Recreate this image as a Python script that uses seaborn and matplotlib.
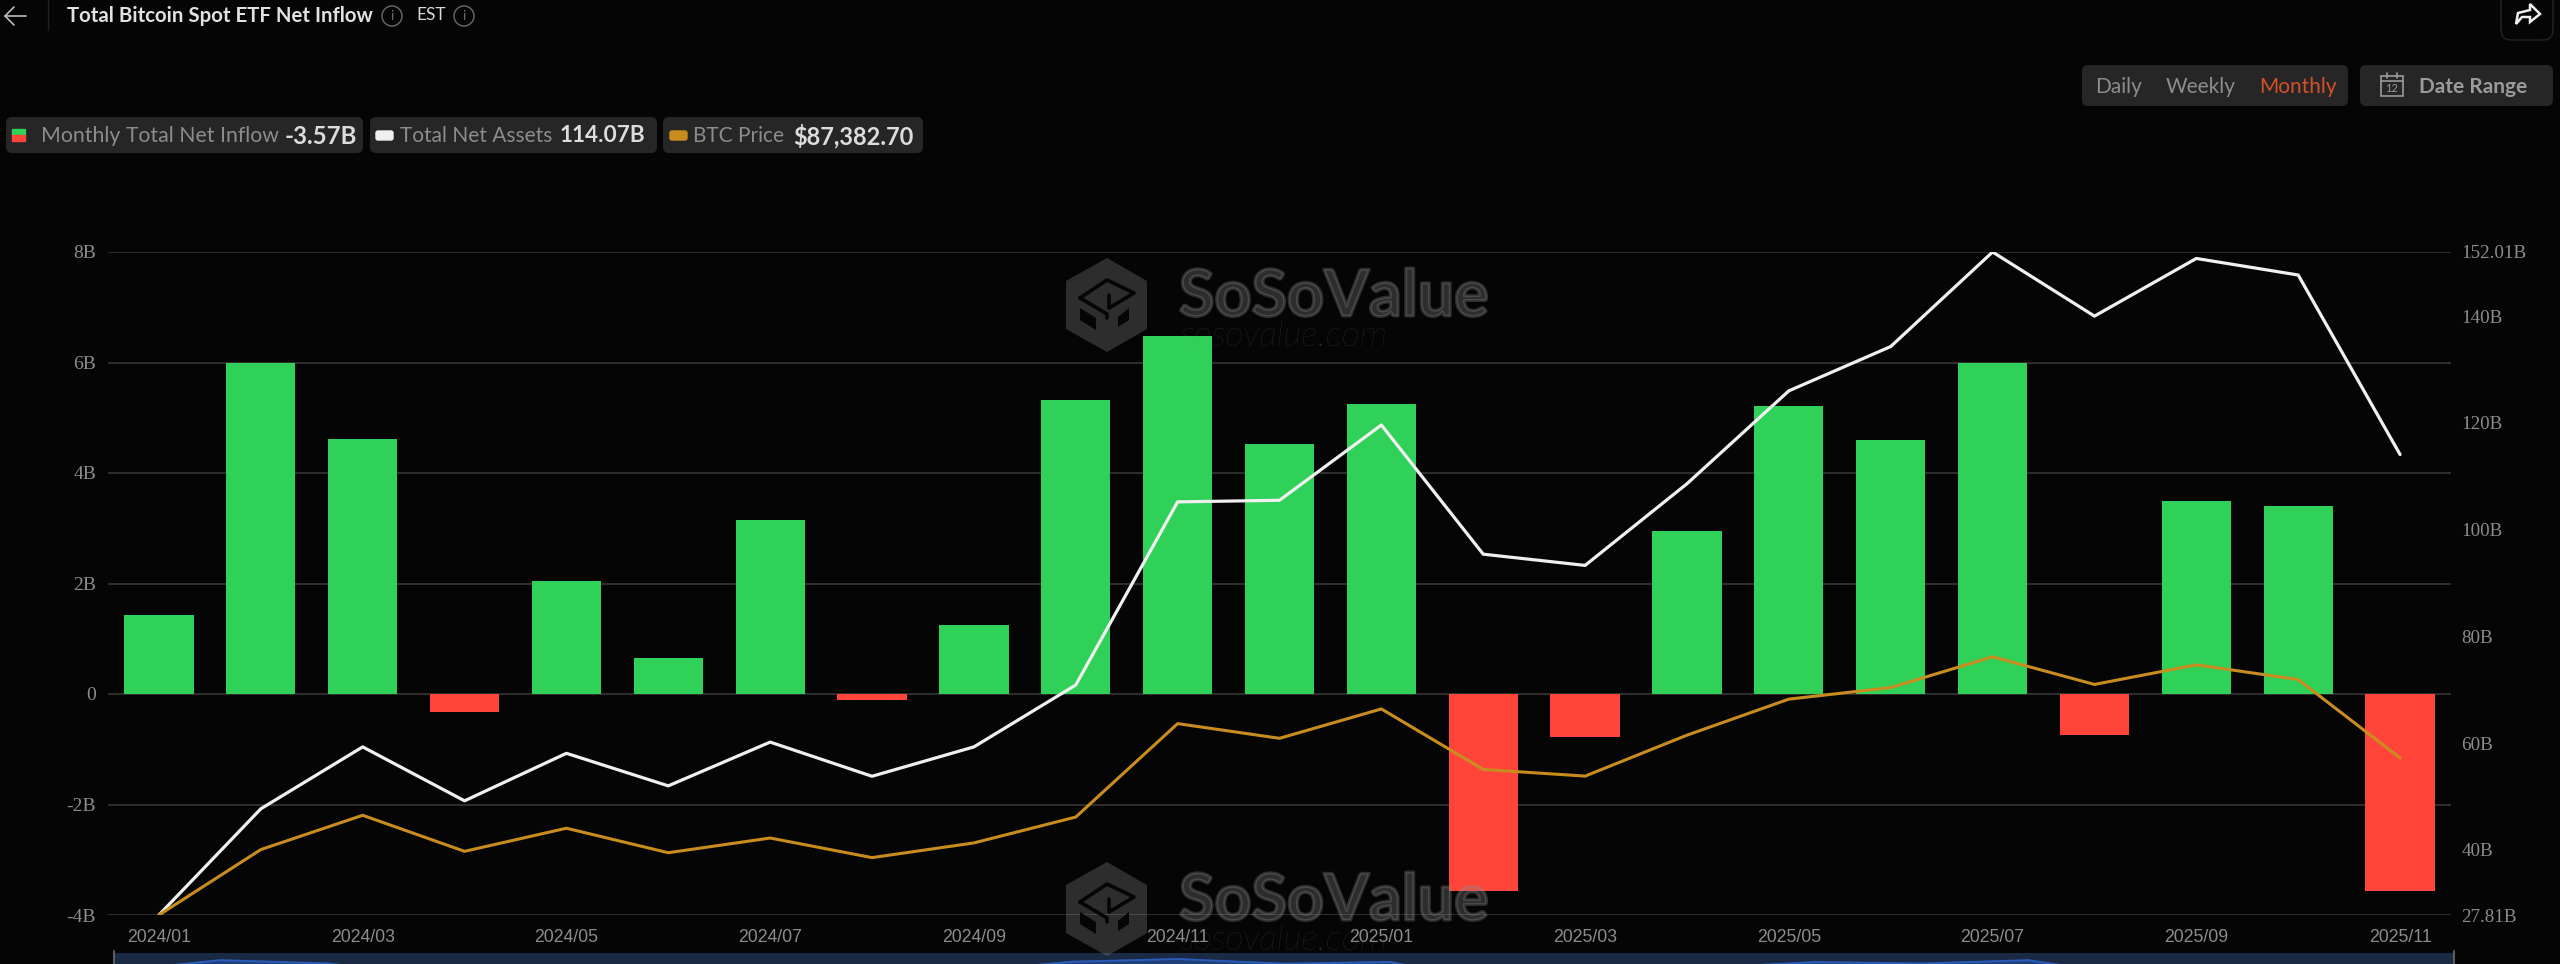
'''
Total Bitcoin Spot ETF Net Inflow, monthly view on a dark dashboard.
'''
import matplotlib
matplotlib.use('Agg')
import matplotlib.pyplot as plt
import matplotlib.patheffects as pe
from matplotlib.patches import FancyBboxPatch, Polygon, Circle, Rectangle
import pandas as pd
import seaborn as sns

months = ['2024/01', '2024/02', '2024/03', '2024/04', '2024/05', '2024/06', '2024/07', '2024/08',
          '2024/09', '2024/10', '2024/11', '2024/12', '2025/01', '2025/02', '2025/03', '2025/04',
          '2025/05', '2025/06', '2025/07', '2025/08', '2025/09', '2025/10', '2025/11']
net_inflow = [1.43, 6.0, 4.62, -0.33, 2.05, 0.66, 3.15, -0.1, 1.25, 5.33, 6.48, 4.53,
              5.24, -3.56, -0.78, 2.95, 5.21, 4.6, 5.99, -0.75, 3.5, 3.4, -3.57]
net_assets = [27.81, 47.7, 59.3, 49.2, 58.1, 52.0, 60.2, 53.8, 59.3, 70.9, 105.2, 105.5,
              119.6, 95.4, 93.3, 108.6, 126.0, 134.3, 152.01, 140.0, 150.8, 147.7, 114.07]
btc_price = [42500, 61200, 71000, 60700, 67300, 60300, 64500, 58900, 63100, 70500, 97200, 93000,
             101400, 84100, 82200, 93900, 104200, 107500, 116300, 108400, 114000, 109800, 87382.70]

left_ticks = [-4, -2, 0, 2, 4, 6, 8]
left_labels = ['-4B', '-2B', '0', '2B', '4B', '6B', '8B']
right_ticks = [27.81, 40, 60, 80, 100, 120, 140, 152.01]
right_labels = ['27.81B', '40B', '60B', '80B', '100B', '120B', '140B', '152.01B']

BG = '#050505'
GREEN = '#30d158'
RED = '#ff453a'
WHITE = '#f0f0f0'
ORANGE = '#c98c1f'
PILL = '#262626'
GREY = '#8c8c8c'
W, H = 2560, 964

sns.set_theme(style='dark')
plt.rcParams['font.family'] = ['Lato', 'DejaVu Sans']
plt.rcParams['axes.unicode_minus'] = False

df = pd.DataFrame({'month': months, 'pos': range(len(months)), 'inflow': net_inflow,
                   'assets': net_assets, 'btc': btc_price})
df['sign'] = ['up' if v >= 0 else 'down' for v in net_inflow]

fig = plt.figure(figsize=(W / 100, H / 100), dpi=100, facecolor=BG)
top, bottom, left, right = 252.0, 915.0, 108, 2451
ax = fig.add_axes([left / W, 1 - bottom / H, (right - left) / W, (bottom - top) / H], facecolor=BG)

sns.barplot(data=df, x='month', y='inflow', hue='sign', palette={'up': GREEN, 'down': RED},
            dodge=False, width=0.68, saturation=1, legend=False, linewidth=0, ax=ax, zorder=3)
ax.set_xlim(-0.5, 22.5)
ax.set_ylim(-4, 8)
ax.set_xticks(range(0, 23, 2))
ax.set_xticklabels(months[::2], family='Liberation Sans', fontsize=12.7, color=GREY)
ax.set_yticks(left_ticks)
ax.set_yticklabels(left_labels, family='Liberation Serif', fontsize=14, color=GREY)
ax.tick_params(axis='x', length=0, pad=10)
ax.tick_params(axis='y', length=0, pad=8.5)
ax.set_xlabel('')
ax.set_ylabel('')
ax.set_axisbelow(True)
ax.grid(axis='y', color='#3a3a3a', linewidth=1.1)
ax.grid(axis='x', visible=False)
for spine in ax.spines.values():
    spine.set_visible(False)

ax2 = ax.twinx()
sns.lineplot(data=df, x='pos', y='assets', color=WHITE, linewidth=2.3, ax=ax2)
ax2.set_ylim(27.81, 152.01)
ax2.set_yticks(right_ticks)
ax2.set_yticklabels(right_labels, family='Liberation Serif', fontsize=13.7, color=GREY)
ax2.tick_params(axis='y', length=0, pad=7.5)
ax2.set_ylabel('')
ax2.set_xlabel('')
ax2.grid(False)

ax3 = ax.twinx()
sns.lineplot(data=df, x='pos', y='btc', color=ORANGE, linewidth=2.2, ax=ax3)
ax3.set_ylim(42500, 232000)
ax3.set_yticks([])
ax3.set_ylabel('')
ax3.set_xlabel('')
ax3.grid(False)
for a in (ax2, ax3):
    a.set_xlim(-0.5, 22.5)
    a.patch.set_visible(False)
    for spine in a.spines.values():
        spine.set_visible(False)

# range navigator under the chart, follows the net inflow series
nav = fig.add_axes([114 / W, 0, 2340 / W, 11 / H], facecolor='#1a2a44')
sns.lineplot(data=df, x='pos', y='inflow', color='#2a5cb8', linewidth=1.4, ax=nav)
nav.fill_between(df['pos'], net_inflow, 4.4, where=[v > 4.4 for v in net_inflow], interpolate=True, color='#20407a')
nav.set_xlim(0, 22)
nav.set_ylim(4.4, 9)
nav.axis('off')
nav.add_patch(Rectangle((0, 4.4), 22, 4.6, color='#1a2a44', zorder=0))

# screen furniture, in pixel coordinates
ui = fig.add_axes([0, 0, 1, 1], facecolor='none')
ui.set_xlim(0, W)
ui.set_ylim(H, 0)
ui.axis('off')


def pill(x0, x1, y0, y1, color=PILL, edge='none'):
    ui.add_patch(FancyBboxPatch((x0 + 5, y0 + 5), x1 - x0 - 10, y1 - y0 - 10, boxstyle='round,pad=5,rounding_size=6',
                                facecolor=color, edgecolor=edge, linewidth=1))


def label(x, y, s, size, color, weight='normal', **kw):
    ui.text(x, y, s, fontsize=size, color=color, fontweight=weight, va='center', ha=kw.pop('ha', 'left'), **kw)


def watermark(dy):
    wm = '#8a8a8a'
    ui.add_patch(Polygon([(1107, 258 + dy), (1147, 281 + dy), (1147, 329 + dy), (1107, 352 + dy),
                          (1066, 329 + dy), (1066, 281 + dy)], closed=True, facecolor=wm, alpha=0.3, edgecolor='none'))
    ui.plot([1080, 1107, 1134, 1109, 1109], [v + dy for v in (298, 280, 293, 308, 295)], color=BG, linewidth=2.6)
    ui.plot([1080, 1107, 1107], [v + dy for v in (298, 314, 318)], color=BG, linewidth=2.6)
    ui.add_patch(Polygon([(1080, 308 + dy), (1096, 318 + dy), (1096, 330 + dy), (1080, 320 + dy)], closed=True, facecolor=BG, edgecolor='none'))
    ui.add_patch(Polygon([(1118, 317 + dy), (1129, 308 + dy), (1129, 320 + dy), (1118, 327 + dy)], closed=True, facecolor=BG, edgecolor='none'))
    t = ui.text(1179, 316 + dy, 'SoSoValue', fontsize=46.5, color=wm, alpha=0.3, fontweight='bold', va='baseline')
    t.set_path_effects([pe.Stroke(linewidth=2.2, foreground=wm, alpha=0.3)])
    ui.text(1180, 346 + dy, 'sosovalue.com', fontsize=25.5, color=wm, alpha=0.3, style='italic', fontweight='light', va='baseline')


watermark(0)
watermark(604)

# header
ui.plot([26, 5, 14], [16, 16, 7], color='#bdbdbd', linewidth=1.2)
ui.plot([5, 14], [16, 25], color='#bdbdbd', linewidth=1.2)
ui.plot([48, 48], [0, 30], color='#222222', linewidth=1)
label(67, 16, 'Total Bitcoin Spot ETF Net Inflow', 14.7, '#e2e2e2', weight='bold')
label(416, 15, 'EST', 12.5, '#d8d8d8')
for cx in (392, 464):
    ui.add_patch(Circle((cx, 16), 10, facecolor='none', edgecolor='#6a6a6a', linewidth=1))
    ui.text(cx, 16, 'i', fontsize=10, color='#6a6a6a', ha='center', va='center')
ui.add_patch(FancyBboxPatch((2507, -30), 40, 64, boxstyle='round,pad=6,rounding_size=10', facecolor=BG, edgecolor='#242424', linewidth=1))
ui.add_patch(Polygon([(2516, 24), (2518, 13), (2530, 10), (2530, 4), (2540, 14), (2530, 22), (2530, 17), (2522, 17)],
                     closed=True, facecolor='none', edgecolor='#f0f0f0', linewidth=1.8))

# legend pills
pill(6, 363, 117, 153)
pill(370, 657, 117, 153)
pill(663, 923, 117, 153)
ui.add_patch(Rectangle((12, 129), 13, 6, color=GREEN))
ui.add_patch(Rectangle((12, 135), 13, 6, color=RED))
ui.add_patch(FancyBboxPatch((378, 133), 13, 5, boxstyle='round,pad=2', color=WHITE))
ui.add_patch(FancyBboxPatch((672, 133), 13, 5, boxstyle='round,pad=2', color=ORANGE))
label(41, 136, 'Monthly Total Net Inflow', 15.3, GREY)
label(285, 136, '-3.57B', 17.3, '#dcdcdc', weight='bold')
label(400, 136, 'Total Net Assets', 15, GREY)
label(560, 136, '114.07B', 16.3, '#dcdcdc', weight='bold')
label(693, 136, 'BTC Price', 15, GREY)
label(793, 136, '$87,382.70', 17, '#dcdcdc', weight='bold')

# period buttons
pill(2082, 2348, 65, 106)
pill(2360, 2553, 65, 106)
label(2095, 87, 'Daily', 15, GREY)
label(2166, 87, 'Weekly', 15, GREY)
label(2259, 87, 'Monthly', 15, '#d4502a')
label(2419, 87, 'Date Range', 15, '#9a9a9a', weight='bold')
ui.add_patch(Rectangle((2381, 76), 22, 20, facecolor='none', edgecolor='#9a9a9a', linewidth=1.2))
ui.plot([2381, 2403], [81, 81], color='#9a9a9a', linewidth=1.2)
ui.plot([2387, 2387], [73, 78], color='#9a9a9a', linewidth=1.2)
ui.plot([2397, 2397], [73, 78], color='#9a9a9a', linewidth=1.2)
ui.text(2392, 88.5, '12', fontsize=8, color='#9a9a9a', ha='center', va='center')

# navigator handles
ui.plot([114, 114], [951, 964], color='#5a5a5a', linewidth=1.5)
ui.plot([2454, 2454], [951, 964], color='#5a5a5a', linewidth=1.5)

fig.savefig('out.png', dpi=100, facecolor=BG)
